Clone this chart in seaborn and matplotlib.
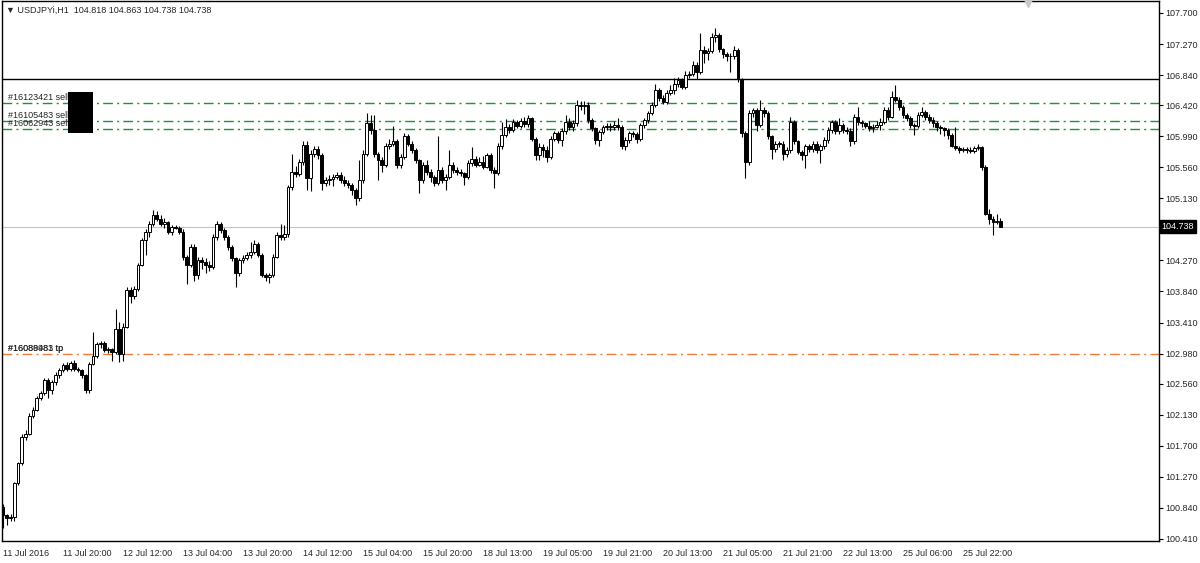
import numpy as np
import matplotlib
matplotlib.use("Agg")
import matplotlib.pyplot as plt
import matplotlib.transforms as mtransforms
from matplotlib.patches import Rectangle
import seaborn as sns

# USDJPYi H1 candles (oldest first)
opens = [
    100.86, 100.74, 100.70, 100.72, 101.18, 101.46, 101.83, 101.87, 102.11, 102.20,
    102.36, 102.43, 102.61, 102.47, 102.59, 102.68, 102.75, 102.82, 102.77, 102.85,
    102.77, 102.75, 102.68, 102.48, 102.84, 102.94, 103.11, 103.13, 103.03, 103.04,
    103.00, 103.32, 102.98, 103.35, 103.86, 103.78, 103.88, 104.21, 104.55, 104.67,
    104.78, 104.90, 104.85, 104.78, 104.80, 104.67, 104.74, 104.72, 104.67, 104.32,
    104.21, 104.46, 104.07, 104.28, 104.25, 104.21, 104.18, 104.60, 104.78, 104.69,
    104.60, 104.46, 104.30, 104.09, 104.28, 104.30, 104.35, 104.39, 104.50, 104.35,
    104.07, 104.04, 104.07, 104.32, 104.62, 104.60, 104.64, 105.29, 105.50, 105.47,
    105.64, 105.87, 105.41, 105.75, 105.82, 105.73, 105.34, 105.38, 105.40, 105.43,
    105.46, 105.38, 105.34, 105.31, 105.25, 105.13, 105.38, 105.75, 106.17, 106.08,
    105.75, 105.66, 105.59, 105.85, 105.89, 105.92, 105.60, 105.71, 105.99, 105.89,
    105.80, 105.66, 105.38, 105.59, 105.50, 105.43, 105.34, 105.52, 105.38, 105.43,
    105.59, 105.52, 105.50, 105.48, 105.43, 105.62, 105.68, 105.60, 105.64, 105.57,
    105.73, 105.52, 105.48, 105.85, 106.01, 106.12, 106.08, 106.19, 106.13, 106.20,
    106.16, 106.24, 105.96, 105.73, 105.84, 105.80, 105.71, 105.96, 106.03, 105.94,
    106.06, 106.19, 106.12, 106.17, 106.43, 106.41, 106.43, 106.22, 106.10, 105.94,
    106.05, 106.12, 106.14, 106.12, 106.15, 106.12, 105.85, 105.94, 106.03, 106.02,
    105.96, 106.15, 106.22, 106.31, 106.43, 106.63, 106.52, 106.47, 106.59, 106.63,
    106.72, 106.77, 106.68, 106.84, 106.86, 106.98, 106.88, 107.19, 107.14, 107.17,
    107.37, 107.40, 107.20, 107.13, 107.10, 107.10, 107.19, 106.78, 106.03, 105.64,
    106.31, 106.35, 106.15, 106.36, 106.31, 105.99, 105.82, 105.89, 105.89, 105.75,
    105.80, 106.19, 105.92, 105.78, 105.73, 105.85, 105.82, 105.89, 105.80, 105.85,
    105.94, 106.08, 106.19, 106.06, 106.15, 106.08, 106.06, 105.92, 106.26, 106.19, 106.17,
    106.14, 106.10, 106.12, 106.15, 106.19, 106.36, 106.26, 106.54, 106.50, 106.40,
    106.29, 106.24, 106.15, 106.14, 106.29, 106.33, 106.26, 106.22, 106.17, 106.12,
    106.10, 106.08, 106.01, 105.85, 105.83, 105.80, 105.81, 105.80, 105.79, 105.83,
    105.84, 105.57, 104.92, 104.85, 104.81, 104.818,
]
closes = [
    100.74, 100.70, 100.72, 101.18, 101.46, 101.83, 101.87, 102.11, 102.20, 102.36,
    102.43, 102.61, 102.47, 102.59, 102.68, 102.75, 102.82, 102.77, 102.85, 102.77,
    102.75, 102.68, 102.48, 102.84, 102.94, 103.11, 103.13, 103.03, 103.04, 103.00,
    103.32, 102.98, 103.35, 103.86, 103.78, 103.88, 104.21, 104.55, 104.67, 104.78,
    104.90, 104.85, 104.78, 104.80, 104.67, 104.74, 104.72, 104.67, 104.32, 104.21,
    104.46, 104.07, 104.28, 104.25, 104.21, 104.18, 104.60, 104.78, 104.69, 104.60,
    104.46, 104.30, 104.09, 104.28, 104.30, 104.35, 104.39, 104.50, 104.35, 104.07,
    104.04, 104.07, 104.32, 104.62, 104.60, 104.64, 105.29, 105.50, 105.47, 105.64,
    105.87, 105.41, 105.75, 105.82, 105.73, 105.34, 105.38, 105.40, 105.43, 105.46,
    105.38, 105.34, 105.31, 105.25, 105.13, 105.38, 105.75, 106.17, 106.08, 105.75,
    105.66, 105.59, 105.85, 105.89, 105.92, 105.60, 105.71, 105.99, 105.89, 105.80,
    105.66, 105.38, 105.59, 105.50, 105.43, 105.34, 105.52, 105.38, 105.43, 105.59,
    105.52, 105.50, 105.48, 105.43, 105.62, 105.68, 105.60, 105.64, 105.57, 105.73,
    105.52, 105.48, 105.85, 106.01, 106.12, 106.08, 106.19, 106.13, 106.20, 106.16,
    106.24, 105.96, 105.73, 105.84, 105.80, 105.71, 105.96, 106.03, 105.94, 106.06,
    106.19, 106.12, 106.17, 106.43, 106.41, 106.43, 106.22, 106.10, 105.94, 106.05,
    106.12, 106.14, 106.12, 106.15, 106.12, 105.85, 105.94, 106.03, 106.02, 105.96,
    106.15, 106.22, 106.31, 106.43, 106.63, 106.52, 106.47, 106.59, 106.63, 106.72,
    106.77, 106.68, 106.84, 106.86, 106.98, 106.88, 107.19, 107.14, 107.17, 107.37,
    107.40, 107.20, 107.13, 107.10, 107.10, 107.19, 106.78, 106.03, 105.64, 106.31,
    106.35, 106.15, 106.36, 106.31, 105.99, 105.82, 105.89, 105.89, 105.75, 105.80,
    106.19, 105.92, 105.78, 105.73, 105.85, 105.82, 105.89, 105.80, 105.85, 105.94,
    106.08, 106.19, 106.06, 106.15, 106.08, 106.06, 105.92, 106.26, 106.19, 106.17, 106.14,
    106.10, 106.12, 106.15, 106.19, 106.36, 106.26, 106.54, 106.50, 106.40, 106.29,
    106.24, 106.15, 106.14, 106.29, 106.33, 106.26, 106.22, 106.17, 106.12, 106.10,
    106.08, 106.01, 105.85, 105.83, 105.80, 105.81, 105.80, 105.79, 105.83, 105.84,
    105.57, 104.92, 104.85, 104.81, 104.82, 104.738,
]
highs = [
    100.90, 100.76, 100.76, 101.20, 101.48, 101.86, 101.92, 102.15, 102.24, 102.39,
    102.46, 102.64, 102.64, 102.62, 102.72, 102.78, 102.85, 102.86, 102.88, 102.89,
    102.79, 102.77, 102.70, 102.86, 103.28, 103.14, 103.16, 103.15, 103.07, 103.06,
    103.60, 103.42, 103.40, 103.90, 103.90, 103.92, 104.24, 104.58, 104.70, 104.82,
    104.97, 104.95, 104.90, 104.86, 104.82, 104.76, 104.76, 104.75, 104.70, 104.35,
    104.50, 104.50, 104.32, 104.32, 104.30, 104.26, 104.63, 104.82, 104.80, 104.72,
    104.62, 104.48, 104.32, 104.30, 104.34, 104.39, 104.53, 104.56, 104.52, 104.37,
    104.09, 104.10, 104.36, 104.66, 104.78, 104.76, 105.32, 105.74, 105.58, 105.68,
    105.92, 105.92, 105.80, 105.86, 105.86, 105.76, 105.42, 105.46, 105.47, 105.50,
    105.50, 105.44, 105.38, 105.34, 105.28, 105.66, 105.80, 106.31, 106.29, 106.28,
    105.78, 105.70, 105.90, 105.95, 106.13, 105.95, 105.75, 106.04, 106.02, 105.92,
    105.83, 105.68, 105.63, 105.66, 105.54, 105.46, 106.00, 105.56, 105.47, 105.80,
    105.64, 105.56, 105.54, 105.50, 105.66, 105.84, 105.72, 105.70, 105.72, 105.76,
    105.76, 105.56, 105.90, 106.19, 106.23, 106.16, 106.23, 106.22, 106.24, 106.26,
    106.28, 106.26, 105.98, 105.90, 105.88, 105.86, 106.00, 106.06, 106.06, 106.10,
    106.28, 106.24, 106.22, 106.50, 106.48, 106.48, 106.46, 106.24, 106.12, 106.08,
    106.15, 106.17, 106.18, 106.20, 106.24, 106.15, 105.98, 106.06, 106.06, 106.05,
    106.18, 106.25, 106.34, 106.46, 106.72, 106.66, 106.56, 106.63, 106.70, 106.80,
    106.81, 106.80, 106.90, 106.90, 107.03, 107.02, 107.42, 107.24, 107.22, 107.42,
    107.49, 107.42, 107.22, 107.16, 107.14, 107.24, 107.22, 106.80, 106.06, 106.36,
    106.38, 106.38, 106.49, 106.40, 106.34, 106.01, 105.93, 105.93, 105.92, 105.84,
    106.26, 106.22, 105.94, 105.80, 105.88, 105.88, 105.93, 105.92, 105.89, 105.98,
    106.12, 106.22, 106.22, 106.24, 106.18, 106.12, 106.10, 106.30, 106.40, 106.22, 106.19,
    106.20, 106.16, 106.20, 106.24, 106.40, 106.40, 106.62, 106.70, 106.54, 106.43,
    106.32, 106.27, 106.18, 106.33, 106.40, 106.36, 106.30, 106.26, 106.20, 106.15,
    106.12, 106.10, 106.04, 106.12, 105.86, 105.84, 105.84, 105.84, 105.86, 105.88,
    105.86, 105.60, 104.99, 104.88, 104.92, 104.863,
]
lows = [
    100.56, 100.60, 100.66, 100.66, 101.16, 101.44, 101.78, 101.85, 102.08, 102.18,
    102.34, 102.40, 102.36, 102.42, 102.55, 102.64, 102.72, 102.74, 102.74, 102.74,
    102.72, 102.64, 102.44, 102.44, 102.82, 102.92, 103.06, 103.00, 102.99, 102.88,
    102.98, 102.86, 102.88, 103.33, 103.68, 103.74, 103.85, 104.19, 104.35, 104.60,
    104.75, 104.82, 104.75, 104.72, 104.64, 104.62, 104.70, 104.64, 104.28, 103.95,
    104.18, 103.98, 104.02, 104.15, 104.10, 104.12, 104.15, 104.56, 104.65, 104.56,
    104.42, 104.26, 103.90, 104.05, 104.24, 104.27, 104.30, 104.36, 104.32, 104.04,
    103.99, 103.96, 104.04, 104.30, 104.55, 104.56, 104.60, 105.25, 105.42, 105.44,
    105.60, 105.25, 105.23, 105.70, 105.68, 105.25, 105.30, 105.32, 105.30, 105.40,
    105.34, 105.30, 105.27, 105.18, 105.04, 105.10, 105.35, 105.72, 106.02, 105.70,
    105.39, 105.50, 105.56, 105.82, 105.86, 105.55, 105.55, 105.68, 105.85, 105.76,
    105.62, 105.20, 105.35, 105.46, 105.36, 105.30, 105.32, 105.34, 105.25, 105.40,
    105.48, 105.46, 105.44, 105.32, 105.40, 105.58, 105.56, 105.58, 105.54, 105.55,
    105.48, 105.27, 105.45, 105.82, 105.98, 106.04, 106.05, 106.10, 106.10, 106.12,
    106.12, 105.92, 105.66, 105.66, 105.70, 105.64, 105.68, 105.92, 105.90, 105.86,
    106.02, 106.08, 106.06, 106.14, 106.36, 106.30, 106.18, 106.06, 105.88, 105.86,
    106.02, 106.08, 106.06, 106.08, 106.08, 105.82, 105.80, 105.90, 105.98, 105.90,
    105.93, 106.10, 106.18, 106.28, 106.40, 106.48, 106.44, 106.44, 106.56, 106.58,
    106.68, 106.64, 106.65, 106.80, 106.82, 106.78, 106.85, 107.00, 107.05, 107.14,
    107.30, 107.16, 107.08, 107.04, 106.88, 107.06, 106.74, 105.98, 105.41, 105.60,
    106.26, 106.06, 106.12, 106.26, 105.95, 105.68, 105.78, 105.84, 105.66, 105.70,
    105.76, 105.88, 105.74, 105.66, 105.55, 105.78, 105.78, 105.76, 105.62, 105.82,
    105.90, 106.04, 106.02, 106.02, 106.04, 106.02, 105.85, 105.88, 106.15, 106.12, 106.10,
    106.06, 106.05, 106.10, 106.08, 106.16, 106.22, 106.24, 106.46, 106.36, 106.25,
    106.20, 106.10, 106.01, 106.10, 106.26, 106.22, 106.18, 106.12, 106.06, 106.02,
    106.00, 105.96, 105.84, 105.80, 105.76, 105.77, 105.76, 105.76, 105.76, 105.80,
    105.52, 104.90, 104.78, 104.62, 104.78, 104.738,
]
assert len(opens) == len(closes) == len(highs) == len(lows)

x_labels = ['11 Jul 2016', '11 Jul 20:00', '12 Jul 12:00', '13 Jul 04:00', '13 Jul 20:00',
            '14 Jul 12:00', '15 Jul 04:00', '15 Jul 20:00', '18 Jul 13:00', '19 Jul 05:00',
            '19 Jul 21:00', '20 Jul 13:00', '21 Jul 05:00', '21 Jul 21:00', '22 Jul 13:00',
            '25 Jul 06:00', '25 Jul 22:00']
y_ticks = [107.700, 107.270, 106.840, 106.420, 105.990, 105.560, 105.130, 104.270,
           103.840, 103.410, 102.980, 102.560, 102.130, 101.700, 101.270, 100.840, 100.410]

sell_levels = [106.45, 106.20, 106.095]
sell_names = ['#16123421 sell', '#16105483 sell', '#16062943 sell']
tp_level = 102.98
tp_names = ['#16089983 tp', '#16088481 tp']
stop_level = 106.78
last_price = 104.738

o = np.array(opens)
c = np.array(closes)
h = np.maximum(np.array(highs), np.maximum(o, c))
l = np.minimum(np.array(lows), np.minimum(o, c))
idx = np.arange(len(o))

sns.set_style("white")
plt.rcParams['font.family'] = ['Liberation Sans', 'DejaVu Sans']
plt.rcParams['font.size'] = 6.5

fig = plt.figure(figsize=(12, 5.63), dpi=100)
ax = fig.add_axes([2 / 1200, 22 / 563, 1157 / 1200, 540 / 563])

# wicks and bodies
ax.vlines(idx, l, h, colors='black', linewidth=0.8, zorder=2)
fill = np.where(c >= o, 'white', 'black')
ax.bar(idx, np.maximum(np.abs(c - o), 0.005), bottom=np.minimum(o, c), width=0.72,
       color=fill, edgecolor='black', linewidth=0.7, zorder=3)

# order lines
green = '#23903a'
dashdot = (0, (7, 3, 1.5, 3))
ax.axhline(stop_level, color='black', linewidth=1.0, zorder=1)
for lev in sell_levels:
    ax.axhline(lev, color=green, linewidth=1.0, linestyle=dashdot, zorder=1)
ax.axhline(tp_level, color='#ef7d3c', linewidth=1.0, linestyle=dashdot, zorder=1)
ax.axhline(last_price, color='#c4c4c4', linewidth=0.8, zorder=1)

for lev, name in zip(sell_levels, sell_names):
    ax.text(1.3, lev + 0.01, name, fontsize=6.5, va='bottom', ha='left', zorder=4)
for name in tp_names:
    ax.text(1.3, tp_level + 0.01, name, fontsize=6.5, va='bottom', ha='left', zorder=4)
ax.add_patch(Rectangle((17.3, 106.037), 6.7, 0.568, facecolor='black',
                       edgecolor='none', zorder=5))

ax.set_xlim(-0.27, 308.27)
ax.set_ylim(100.382, 107.866)

ax.yaxis.tick_right()
ax.set_yticks(y_ticks)
ax.set_yticklabels([f'{v:.3f}' for v in y_ticks])
ax.set_xticks(np.arange(0, 16 * len(x_labels), 16))
ax.set_xticklabels(x_labels, ha='left')
ax.tick_params(axis='both', direction='out', length=3, width=0.8, color='black',
               labelsize=6.5, pad=1.2)
ax.tick_params(axis='x', pad=2.5)
for sp in ax.spines.values():
    sp.set_color('black')
    sp.set_linewidth(1.0)

# current price tag on the price scale
trans = mtransforms.blended_transform_factory(ax.transAxes, ax.transData)
ax.text(1.002, last_price, '104.738', transform=trans, color='white', fontsize=6.5,
        va='center', ha='left', zorder=6,
        bbox=dict(boxstyle='square,pad=0.2', facecolor='black', edgecolor='black'))

# header and shift marker
fig.text(6 / 1200, 1 - 10 / 563, '\u25bc USDJPYi,H1  104.818 104.863 104.738 104.738',
         fontsize=6.5, va='center', ha='left', family=['Liberation Sans', 'DejaVu Sans'])
ax.plot([0.887], [0.997], marker='v', markersize=6, color='#c8c8c8',
        transform=ax.transAxes, clip_on=False, zorder=6)

fig.savefig('out.png', dpi=100)
